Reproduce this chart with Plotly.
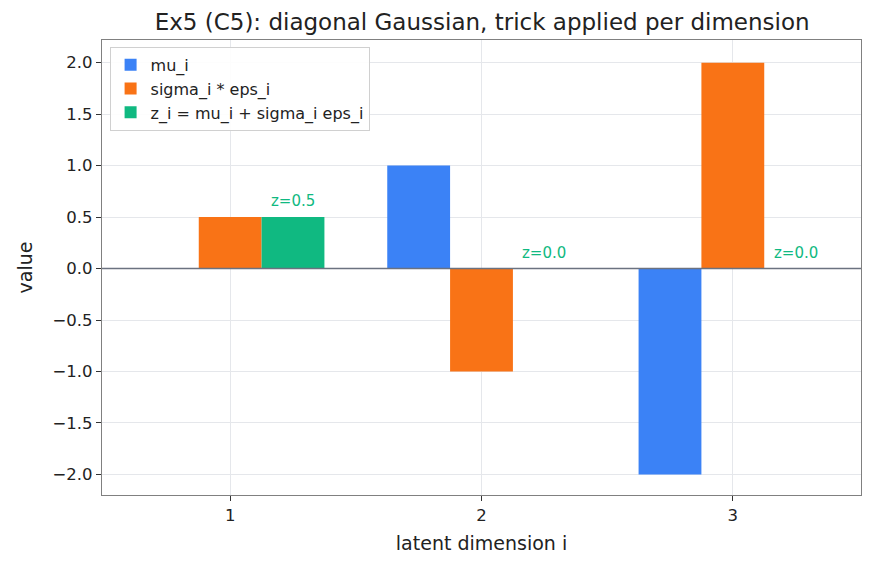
import plotly.graph_objects as go

dims = [1, 2, 3]
mu = [0.0, 1.0, -2.0]
sigma_eps = [0.5, -1.0, 2.0]
z = [0.5, 0.0, 0.0]

series_names = ["mu_i", "sigma_i * eps_i", "z_i = mu_i + sigma_i eps_i"]
colors = ["#3b82f6", "#f97316", "#10b981"]
offsets = [-0.25, 0.0, 0.25]
width = 0.25

fig = go.Figure()
for name, vals, col, off in zip(series_names, [mu, sigma_eps, z], colors, offsets):
    fig.add_trace(go.Bar(
        x=[d + off for d in dims], y=vals, width=width, name=name,
        marker=dict(color=col, line=dict(width=0)),
    ))

fig.add_shape(type="line", xref="paper", x0=0, x1=1, yref="y", y0=0, y1=0,
              line=dict(color="#6b7280", width=1.5), layer="above")

for d, zv in zip(dims, z):
    fig.add_annotation(x=d + 0.25, y=zv, text=f"z={zv:.1f}", showarrow=False,
                       yanchor="bottom", yshift=5,
                       font=dict(color="#10b981", size=15, family="DejaVu Sans"))

axis_common = dict(
    showgrid=True, gridcolor="#e5e7eb", gridwidth=1,
    showline=True, linecolor="#808080", linewidth=1.2, mirror=True,
    ticks="outside", ticklen=5, tickcolor="#333333",
    tickfont=dict(size=16.5, color="#222222"), zeroline=False,
)

fig.update_layout(
    width=875, height=569,
    margin=dict(l=102, r=14, t=40, b=74),
    plot_bgcolor="white", paper_bgcolor="white",
    font=dict(family="DejaVu Sans", color="#222222"),
    title=dict(text="Ex5 (C5): diagonal Gaussian, trick applied per dimension",
               x=0.551, xanchor="center", y=0.962, yanchor="middle",
               font=dict(size=23, color="#222222")),
    barmode="overlay",
    showlegend=True,
    legend=dict(x=0.01, y=0.985, xanchor="left", yanchor="top",
                bgcolor="rgba(255,255,255,0.9)", bordercolor="#d0d0d0", borderwidth=1,
                font=dict(size=16), traceorder="normal", itemwidth=30,
                tracegroupgap=0),
    xaxis=dict(range=[0.49, 3.51], tickvals=dims, ticktext=[str(d) for d in dims],
               title=dict(text="latent dimension i", font=dict(size=19), standoff=12),
               **axis_common),
    yaxis=dict(range=[-2.2, 2.22], tickvals=[-2, -1.5, -1, -0.5, 0, 0.5, 1, 1.5, 2],
               ticktext=["−2.0", "−1.5", "−1.0", "−0.5", "0.0", "0.5", "1.0", "1.5", "2.0"],
               title=dict(text="value", font=dict(size=19), standoff=14),
               **axis_common),
)

fig.write_html("out.html")
